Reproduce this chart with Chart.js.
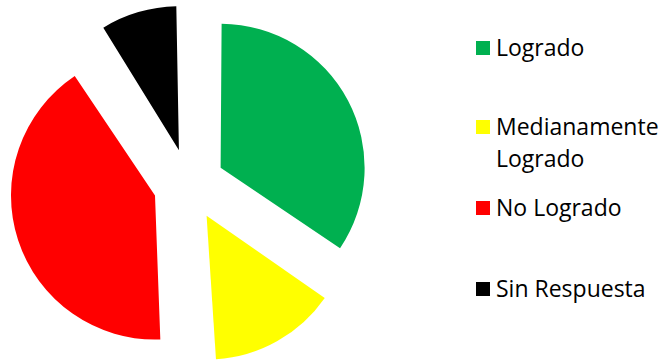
<!DOCTYPE html>
<html>
<head>
<meta charset="utf-8">
<script src="https://cdn.jsdelivr.net/npm/chart.js@4.4.1/dist/chart.umd.min.js"></script>
<style>
  html, body { margin: 0; padding: 0; background: #fff; }
  #wrap { position: relative; width: 667px; height: 360px; overflow: hidden; }
  #chart { position: absolute; left: 0; top: 0; }
  .key { position: absolute; left: 476px; width: 14px; height: 14px; }
  .lbl { position: absolute; left: 496px; font-family: "Open Sans", sans-serif; font-size: 23px; line-height: 32px; color: #000; white-space: nowrap; }
</style>
</head>
<body>
<div id="wrap">
  <canvas id="chart" width="378" height="360"></canvas>
</div>
<script>
// datos
var categories = ['Logrado', 'Medianamente Logrado', 'No Logrado', 'Sin Respuesta'];
var counts = [19, 8, 23, 5];
var sliceColors = ['#00B050', '#FFFF00', '#FF0000', '#000000'];
// lineas de la leyenda (texto partido) y su linea base
var legendLines = [['Logrado'], ['Medianamente', 'Logrado'], ['No Logrado'], ['Sin Respuesta']];
var legendBaselines = [56, 135, 216, 297];

var wrap = document.getElementById('wrap');
legendLines.forEach(function (lines, i) {
    var key = document.createElement('div');
    key.className = 'key';
    key.style.background = sliceColors[i];
    key.style.top = (legendBaselines[i] - 15) + 'px';
    wrap.appendChild(key);

    var lbl = document.createElement('div');
    lbl.className = 'lbl';
    lbl.style.top = (legendBaselines[i] - 25) + 'px';
    lbl.innerHTML = lines.join('<br>');
    wrap.appendChild(lbl);
});

// Chart.js agranda el radio de los sectores desplazados; lo dejamos igual para todos
var sameRadius = {
    id: 'sameRadius',
    afterDatasetUpdate: function (chart, args) {
        args.meta.data.forEach(function (arc) {
            var off = (arc.options.offset || 0) / 4;
            var fix = 1 - Math.sin(Math.min(Math.PI, arc.circumference));
            arc.outerRadius -= off * fix;
        });
    }
};

var ctx = document.getElementById('chart').getContext('2d');
var myChart = new Chart(ctx, {
    type: 'pie',
    data: {
        labels: categories,
        datasets: [{
            data: counts,
            backgroundColor: sliceColors,
            borderWidth: 0,
            offset: 143,
            hoverOffset: 0
        }]
    },
    options: {
        responsive: false,
        animation: false,
        devicePixelRatio: 1,
        radius: 144,
        layout: { padding: { top: 9 } },
        plugins: {
            legend: { display: false },
            tooltip: { enabled: false }
        }
    },
    plugins: [sameRadius]
});
</script>
</body>
</html>
